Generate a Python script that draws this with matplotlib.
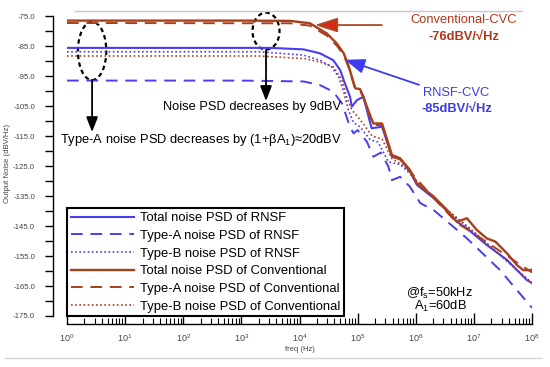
import numpy as np
import matplotlib
matplotlib.use("Agg")
import matplotlib.pyplot as plt
from matplotlib.patches import Ellipse
from matplotlib.lines import Line2D
from matplotlib.ticker import FixedLocator, LogLocator, FuncFormatter, NullFormatter

plt.rcParams['font.family'] = ['Liberation Sans', 'DejaVu Sans']
plt.rcParams['mathtext.fontset'] = 'custom'
plt.rcParams['mathtext.rm'] = 'Liberation Sans'
plt.rcParams['mathtext.it'] = 'Liberation Sans'

# DATA (log10 of freq in Hz, noise in dBV/sqrt(Hz))
rnsf_total_logf = [0, 3.5, 4.07, 4.35, 4.58, 4.70, 4.78, 4.87, 4.90, 4.99, 5.10, 5.24, 5.42,
                   5.59, 5.73, 5.90, 6.02, 6.31, 6.54, 6.71, 6.88, 7.22, 7.57, 7.91, 8.0]
rnsf_total_db = [-85.6, -85.6, -86.1, -87.4, -89.7, -93.0, -97.4, -101.9, -105.2, -103.0, -101.9,
                 -112.4, -111.9, -121.9, -122.6, -126.8, -131.3, -135.7, -140.0, -143.6, -145.8,
                 -151.3, -156.3, -163.0, -164.0]

rnsf_a_logf = [0, 3.0, 4.07, 4.35, 4.58, 4.73, 4.81, 4.87, 4.93, 5.0, 5.16, 5.27, 5.40, 5.53,
               5.59, 5.73, 5.90, 6.08, 6.31, 6.88, 7.45, 8.0]
rnsf_a_db = [-96.5, -96.5, -96.8, -98.0, -100.2, -104.1, -108.6, -112.0, -114.1, -113.0, -116.9,
             -121.9, -120.5, -125.2, -129.7, -128.6, -131.9, -137.4, -139.7, -149.1, -159.7, -172.3]

rnsf_b_logf = [0, 3.3, 4.07, 4.35, 4.55, 4.67, 4.76, 4.84, 4.93, 5.04, 5.22, 5.35, 5.53, 5.73,
               5.90, 6.1, 6.5, 7.0, 7.5, 8.0]
rnsf_b_db = [-86.9, -86.9, -88.0, -89.7, -91.9, -95.2, -100.2, -106.3, -110.5, -111.9, -116.3,
             -117.0, -123.6, -124.5, -127.5, -132.0, -139.0, -147.0, -155.5, -164.2]

conv_total_logf = [0, 3.0, 3.84, 4.18, 4.47, 4.64, 4.76, 4.84, 4.90, 4.96, 5.04, 5.10, 5.18, 5.27,
                   5.42, 5.59, 5.73, 5.90, 6.02, 6.31, 6.54, 6.71, 6.88, 7.05, 7.22, 7.37, 7.57,
                   7.74, 7.85, 7.97, 8.0]
conv_total_db = [-76.5, -76.5, -76.6, -77.4, -80.8, -84.1, -87.4, -91.3, -95.2, -99.1, -99.3,
                 -101.9, -106.3, -110.8, -110.8, -121.3, -122.4, -126.3, -130.8, -135.2, -139.7,
                 -143.6, -142.4, -146.3, -149.1, -150.2, -154.1, -158.0, -159.7, -159.7, -159.5]

conv_a_logf = [0, 3.84, 4.18, 4.47, 4.64, 4.76, 4.84, 4.90, 4.96, 5.04, 5.10, 5.18, 5.27, 5.42,
               5.59, 5.73, 5.90, 6.31, 6.71, 7.0, 7.5, 8.0]
conv_a_db = [-77.3, -77.4, -78.2, -81.5, -84.8, -88.0, -91.8, -95.6, -99.5, -99.7, -102.3,
             -106.8, -111.3, -111.3, -121.8, -122.8, -126.8, -135.7, -144.0, -147.5, -154.0, -160.5]

conv_b_logf = [0, 3.3, 4.1, 4.35, 4.58, 4.73, 4.81, 4.90, 5.0, 5.1, 5.25, 5.42, 5.59, 5.8, 6.1,
               6.5, 7.0, 7.5, 8.0]
conv_b_db = [-88.3, -88.3, -89.2, -90.3, -91.9, -96.3, -101.9, -106.3, -108.5, -111.0, -115.0,
             -116.0, -122.5, -125.0, -132.0, -139.0, -147.0, -155.5, -164.0]

labels = ["Total noise PSD of RNSF", "Type-A noise PSD of RNSF", "Type-B noise PSD of RNSF",
          "Total noise PSD of Conventional", "Type-A noise PSD of Conventional",
          "Type-B noise PSD of Conventional"]

BLUE = '#4a3cf0'
BROWN = '#a8401c'

fig = plt.figure(figsize=(5.5, 3.67), dpi=100)
ax = fig.add_axes([67 / 550, 51 / 367, 465 / 550, 305 / 367])

def f(logf):
    return 10 ** np.array(logf)

ax.plot(f(rnsf_total_logf), rnsf_total_db, color=BLUE, lw=1.5, label=labels[0])
ax.plot(f(rnsf_a_logf), rnsf_a_db, color=BLUE, lw=1.4, ls=(0, (6, 4)), label=labels[1])
ax.plot(f(rnsf_b_logf), rnsf_b_db, color=BLUE, lw=1.2, ls=(0, (1, 1.5)), label=labels[2])
ax.plot(f(conv_total_logf), conv_total_db, color=BROWN, lw=1.7, label=labels[3])
ax.plot(f(conv_a_logf), conv_a_db, color=BROWN, lw=1.4, ls=(0, (6, 4)), label=labels[4])
ax.plot(f(conv_b_logf), conv_b_db, color=BROWN, lw=1.2, ls=(0, (1, 1.5)), label=labels[5])

ax.set_xscale('log')
ax.set_xlim(1, 1e8)
ax.set_ylim(-175, -73.3)

# axes styling
ax.spines['right'].set_visible(False)
ax.spines['top'].set_visible(False)
ax.spines['left'].set_position(('outward', 10))
ax.spines['left'].set_bounds(-175, -75)
ax.spines['bottom'].set_position(('outward', 6))
for s in ['left', 'bottom']:
    ax.spines[s].set_linewidth(1.0)

ax.yaxis.set_major_locator(FixedLocator(np.arange(-175, -74, 10)))
ax.yaxis.set_minor_locator(FixedLocator(np.arange(-170, -79, 10)))
ax.yaxis.set_major_formatter(FuncFormatter(lambda v, p: f"{v:.1f}"))
ax.tick_params(axis='y', which='both', direction='out', length=6, width=1, pad=7,
               labelsize=5.6, labelcolor='#444444')

ax.xaxis.set_major_locator(LogLocator(base=10, numticks=20))
ax.xaxis.set_minor_locator(LogLocator(base=10, subs=np.arange(2, 10), numticks=20))
ax.xaxis.set_minor_formatter(NullFormatter())
ax.xaxis.set_major_formatter(FuncFormatter(lambda v, p: r"$10^{%d}$" % round(np.log10(v))))
ax.tick_params(axis='x', which='major', direction='in', length=8, width=1, pad=6,
               labelsize=6.5, labelcolor='#444444')
ax.tick_params(axis='x', which='minor', direction='in', length=4.5, width=0.8)

ax.set_ylabel("Output Noise (dBV/Hz)", fontsize=5.6, color='#444444')
ax.yaxis.set_label_coords(-0.120, 0.5)
ax.set_xlabel("freq (Hz)", fontsize=5.5, color='#444444', labelpad=1)

leg = ax.legend(loc='upper left', bbox_to_anchor=(0, 0.353), borderaxespad=0, fontsize=9.4,
                handlelength=4.8, handletextpad=0.5, labelspacing=0.42, borderpad=0.3,
                fancybox=False, framealpha=1, edgecolor='black')
leg.get_frame().set_linewidth(1.5)

# ellipses
for cx, cy, w, h in [(0.054, 0.869, 0.061, 0.191), (0.428, 0.934, 0.058, 0.121)]:
    ax.add_patch(Ellipse((cx, cy), w, h, transform=ax.transAxes, fill=False,
                         ec='black', lw=1.6, ls=(0, (2, 1.5)), clip_on=False))

# black arrows
for x0, y0, y1 in [(0.054, 0.774, 0.603), (0.428, 0.872, 0.705)]:
    ax.annotate('', xy=(x0, y1), xytext=(x0, y0), xycoords='axes fraction',
                arrowprops=dict(arrowstyle='-|>,head_length=0.9,head_width=0.35',
                                color='black', lw=1.3, shrinkA=0, shrinkB=0))

ax.text(-0.015, 0.577, r"Type-A noise PSD decreases by (1+βA$_1$)≈20dBV", transform=ax.transAxes,
        fontsize=9.3, va='center', ha='left')
ax.text(0.206, 0.684, "Noise PSD decreases by 9dBV", transform=ax.transAxes,
        fontsize=9.3, va='center', ha='left')

# coloured call-outs
ax.annotate('', xy=(0.533, 0.954), xytext=(0.677, 0.954), xycoords='axes fraction',
            arrowprops=dict(arrowstyle='-|>,head_length=1.4,head_width=0.45',
                            fc='#d8281a', ec='#b04a22', lw=1.3, shrinkA=0, shrinkB=0))
ax.annotate('', xy=(0.598, 0.840), xytext=(0.757, 0.758), xycoords='axes fraction',
            arrowprops=dict(arrowstyle='-|>,head_length=1.2,head_width=0.45',
                            color='#3c3cf0', lw=1.3, shrinkA=0, shrinkB=0))

ax.text(0.854, 0.970, "Conventional-CVC", transform=ax.transAxes, fontsize=9.3,
        color='#b0381c', ha='center', va='center')
ax.text(0.854, 0.915, "-76dBV/√Hz", transform=ax.transAxes, fontsize=9.3,
        color='#b0381c', ha='center', va='center', fontweight='bold')
ax.text(0.836, 0.731, "RNSF-CVC", transform=ax.transAxes, fontsize=9.3,
        color='#3c3ce0', ha='center', va='center')
ax.text(0.839, 0.678, "-85dBV/√Hz", transform=ax.transAxes, fontsize=9.3,
        color='#3c3ce0', ha='center', va='center', fontweight='bold')

ax.text(0.802, 0.075, r"@f$_s$=50kHz", transform=ax.transAxes, fontsize=9.3,
        ha='center', va='center')
ax.text(0.804, 0.030, r"A$_1$=60dB", transform=ax.transAxes, fontsize=9.3,
        ha='center', va='center')

# light frame lines of the original figure
fig.add_artist(Line2D([75 / 550, 522 / 550], [1 - 11 / 367] * 2, color='#c8c8c8', lw=1))
fig.add_artist(Line2D([5 / 550, 542 / 550], [1 - 358 / 367] * 2, color='#d8d8d8', lw=1))

fig.savefig("out.png", dpi=100)
